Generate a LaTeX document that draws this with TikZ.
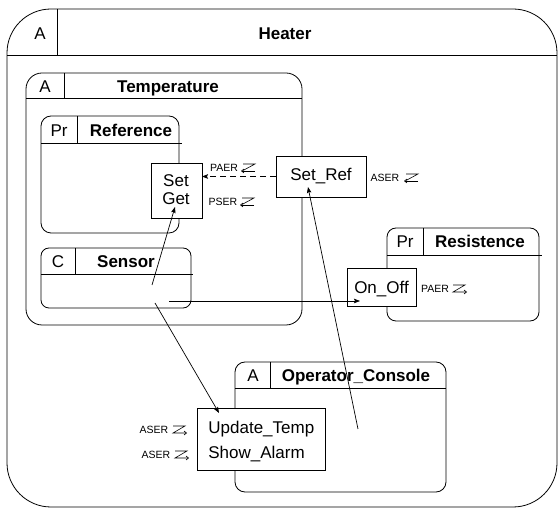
\documentclass[tikz,border=0pt]{standalone}
\usepackage{fontspec}
\setmainfont{Liberation Sans}
\usetikzlibrary{arrows.meta}

\begin{document}
\begin{tikzpicture}[x=1pt,y=-1pt,line width=0.8pt,
  frame/.style={draw=black,fill=white,inner sep=0pt,outer sep=0pt,anchor=north west},
  port/.style={draw=black,fill=white,inner sep=0pt,outer sep=0pt,anchor=north west},
  tagtext/.style={font=\fontsize{17}{20}\selectfont,anchor=base,inner sep=0pt},
  title/.style={font=\fontsize{17}{20}\selectfont\bfseries,anchor=base,inner sep=0pt},
  optext/.style={font=\fontsize{17}{20}\selectfont,anchor=base,inner sep=0pt},
  small/.style={font=\fontsize{10.5}{12}\selectfont,anchor=base,inner sep=0pt},
  conn/.style={line width=0.7pt,-{Stealth[length=6pt,width=4.5pt,inset=1pt]}},
  dconn/.style={conn,dash pattern=on 6pt off 4pt},
  barb/.style={line width=0.6pt,-{Straight Barb[length=2.5pt,width=4pt]}},
  zright/.pic={\draw[barb] (-7,-4) -- (5,-4) -- (-7,3) -- (7,3);},
  zleft/.pic={\draw[line width=0.6pt] (-5,-4) -- (7,-4) -- (-5,2.5);
              \draw[barb] (7,3) -- (-7,3);}
]
\useasboundingbox (0,0) rectangle (560,510);

% Heater
\node[frame,rounded corners=44pt,minimum width=550pt,minimum height=498pt] (heater) at (7,9) {};
\draw (7,55) -- (557,55) (57,9) -- (57,55);
\node[tagtext] (heaterTag) at (40,40) {A};
\node[title] (heaterTitle) at (285,40) {Heater};

% Temperature
\node[frame,rounded corners=16pt,minimum width=276pt,minimum height=252pt] (temp) at (26,73) {};
\draw (26,98) -- (302,98) (64,73) -- (64,98);
\node[tagtext] (tempTag) at (45,92.5) {A};
\node[title] (tempTitle) at (168,92.5) {Temperature};

% Reference
\node[frame,rounded corners=10pt,minimum width=138pt,minimum height=117pt] (ref) at (41,116) {};
\draw (41,143) -- (182,143) (77,116) -- (77,143);
\node[tagtext] (refTag) at (59,136.5) {Pr};
\node[title] (refTitle) at (131,136.5) {Reference};

% Sensor
\node[frame,rounded corners=8pt,minimum width=150pt,minimum height=60pt] (sensor) at (41,248) {};
\draw (41,274) -- (193,274) (75,248) -- (75,274);
\node[tagtext] (sensTag) at (58,268) {C};
\node[title] (sensTitle) at (126,268) {Sensor};

% Resistence
\node[frame,rounded corners=9pt,minimum width=152pt,minimum height=93pt] (res) at (387,228) {};
\draw (387,255) -- (542,255) (423,228) -- (423,255);
\node[tagtext] (resTag) at (405,248) {Pr};
\node[title] (resTitle) at (480,248) {Resistence};

% Operator_Console
\node[frame,rounded corners=10pt,minimum width=211pt,minimum height=130pt] (opc) at (235,362) {};
\draw (235,388) -- (446,388) (270,362) -- (270,388);
\node[tagtext] (opcTag) at (253,381.5) {A};
\node[title] (opcTitle) at (356,381.5) {Operator\_Console};

% operation boxes
\node[port,minimum width=51pt,minimum height=55pt] (setget) at (151,163) {};
\node[optext] (setTxt) at (176,187) {Set};
\node[optext] (getTxt) at (176,205) {Get};

\node[port,minimum width=90pt,minimum height=41pt] (setref) at (276,156) {};
\node[optext] (setrefTxt) at (321,181) {Set\_Ref};

\node[port,minimum width=69pt,minimum height=38pt] (onoff) at (347,268) {};
\node[optext] (onoffTxt) at (381.5,294) {On\_Off};

\node[port,minimum width=128pt,minimum height=62pt] (upd) at (197,408) {};
\node[optext,anchor=base west] (updTxt) at (208,434) {Update\_Temp};
\node[optext,anchor=base west] (alarmTxt) at (208,459) {Show\_Alarm};

% connector ends inside the objects
\coordinate (sensUp) at (152,285);
\coordinate (sgIn) at (175,207);
\coordinate (sensDown) at (155,303);
\coordinate (updIn) at (219,413);
\coordinate (sensRight) at (169,301);
\coordinate (onoffIn) at (360,301);
\coordinate (opcIn) at (358,429);
\coordinate (setrefIn) at (308,187);

% connectors
\draw[dconn] (setref.west) -- (setref.west -| setget.east);
\draw[conn] (sensUp) -- (sgIn);
\draw[conn] (sensDown) -- (updIn);
\draw[conn] (sensRight) -- (onoffIn);
\draw[conn] (opcIn) -- (setrefIn);

% triggering labels
\node[small] (paer1) at (224,172) {PAER};
\pic at (248,168) {zleft};
\node[small] (pser1) at (223,206) {PSER};
\pic at (247,202) {zleft};
\node[small] (aser1) at (385,182) {ASER};
\pic at (411,178) {zleft};
\node[small] (paer2) at (435,293) {PAER};
\pic at (460,289) {zright};
\node[small] (aser2) at (154,434) {ASER};
\pic at (180,430) {zright};
\node[small] (aser3) at (156,459) {ASER};
\pic at (182,455) {zright};
\end{tikzpicture}
\end{document}
